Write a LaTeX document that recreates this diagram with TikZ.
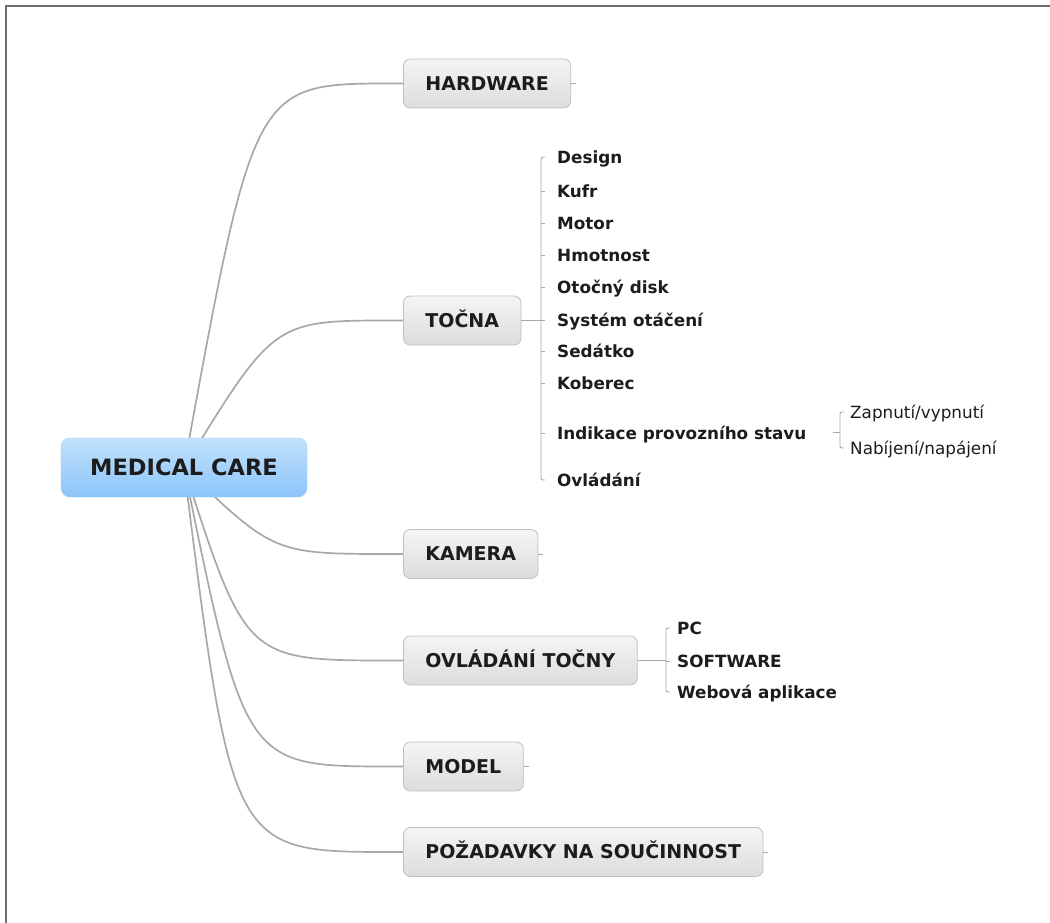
\documentclass[tikz,border=0pt]{standalone}
\usepackage{fontspec}
\setmainfont{DejaVu Sans}
\usetikzlibrary{positioning, calc, backgrounds}
\definecolor{rootTop}{HTML}{C2E1FC}
\definecolor{rootBot}{HTML}{8CC5F9}
\definecolor{rootLine}{HTML}{9CCBF4}
\definecolor{boxTop}{HTML}{F5F5F5}
\definecolor{boxBot}{HTML}{DCDCDC}
\definecolor{boxLine}{HTML}{C0C0C0}
\definecolor{branchGray}{HTML}{A8A8A8}
\definecolor{frameGray}{HTML}{6E6E6E}
\definecolor{inkDark}{HTML}{1C1C1C}

\begin{document}
\begin{tikzpicture}[
    x=1pt, y=-1pt,
    every node/.style={text=inkDark},
    root/.style={rounded corners=9pt, top color=rootTop, bottom color=rootBot, draw=rootLine,
        minimum width=246pt, minimum height=59pt, inner sep=0pt,
        font=\fontsize{22.5}{26}\selectfont\bfseries, text height=16.4pt, text depth=0pt},
    topic/.style={anchor=west, rounded corners=7pt, top color=boxTop, bottom color=boxBot,
        draw=boxLine, line width=0.8pt, minimum height=49pt, inner xsep=22pt, inner ysep=0pt,
        font=\fontsize{19}{22}\selectfont\bfseries, text height=13.9pt, text depth=0pt},
    leaf/.style={anchor=west, inner sep=0pt,
        font=\fontsize{16.8}{19}\selectfont\bfseries, text height=12.2pt, text depth=0pt},
    subleaf/.style={leaf, font=\fontsize{16.8}{19}\selectfont},
    branch/.style={draw=branchGray, line width=1.7pt},
    twig/.style={draw=branchGray, line width=0.9pt, rounded corners=2pt}
]
   \useasboundingbox (0,0) rectangle (1050,923);
   \draw[frameGray, line width=2.5pt] (6,923) -- (6,6) -- (1050,6);

   % Central topic
   \node[root] (mc) at (184,467.5) {MEDICAL CARE};

   % Main topics
   \node[topic] (hw)  at (403,83.5)  {HARDWARE};
   \node[topic] (toc) at (403,320.5) {TOČNA};
   \node[topic] (kam) at (403,554)   {KAMERA};
   \node[topic] (ovl) at (403,660.5) {OVLÁDÁNÍ TOČNY};
   \node[topic] (mod) at (403,766.5) {MODEL};
   \node[topic] (poz) at (403,852)   {POŽADAVKY NA SOUČINNOST};

   % Subtopics of TOČNA
   \node[leaf] (design) at (557,157)   {Design};
   \node[leaf] (kufr)   at (557,191)   {Kufr};
   \node[leaf] (motor)  at (557,223)   {Motor};
   \node[leaf] (hmot)   at (557,255)   {Hmotnost};
   \node[leaf] (disk)   at (557,287)   {Otočný disk};
   \node[leaf] (system) at (557,320.5) {Systém otáčení};
   \node[leaf] (sed)    at (557,351)   {Sedátko};
   \node[leaf] (kob)    at (557,383)   {Koberec};
   \node[leaf] (ind)    at (557,433)   {Indikace provozního stavu};
   \node[leaf] (ovlad)  at (557,480)   {Ovládání};
   \node[subleaf] (zap) at (850,412) {Zapnutí/vypnutí};
   \node[subleaf] (nab) at (850,448) {Nabíjení/napájení};

   % Subtopics of OVLÁDÁNÍ TOČNY
   \node[leaf] (pc)  at (677,628) {PC};
   \node[leaf] (sw)  at (677,661) {SOFTWARE};
   \node[leaf] (web) at (677,692) {Webová aplikace};

   % Bracket joints
   \coordinate (tb) at (541,320.5);
   \coordinate (ib) at (840,432);
   \coordinate (ob) at (666,660.5);

   % Curved branches from the centre
   \begin{scope}[on background layer]
   \draw[branch] (mc.center) .. controls ($(mc.center |- hw.west)+(70,0)$) .. ([xshift=-10]hw.west) -- (hw.west);
   \draw[branch] (mc.center) .. controls ($(mc.center |- toc.west)+(90,0)$) .. ([xshift=-10]toc.west) -- (toc.west);
   \draw[branch] (mc.center) .. controls ($(mc.center |- kam.west)+(90,0)$) .. ([xshift=-10]kam.west) -- (kam.west);
   \draw[branch] (mc.center) .. controls ($(mc.center |- ovl.west)+(62,0)$) .. ([xshift=-10]ovl.west) -- (ovl.west);
   \draw[branch] (mc.center) .. controls ($(mc.center |- mod.west)+(61,0)$) .. ([xshift=-10]mod.west) -- (mod.west);
   \draw[branch] (mc.center) .. controls ($(mc.center |- poz.west)+(48,0)$) .. ([xshift=-10]poz.west) -- (poz.west);
   \end{scope}

   % Stubs on closed topics
   \foreach \n in {hw, kam, mod, poz}
      \draw[twig] (\n.east) -- ++(5,0);

   % Brackets
   \draw[twig] (toc.east) -- (tb);
   \draw[twig] ([xshift=4]tb |- design.west) -| (tb |- ovlad.west) -- ++(4,0);
   \foreach \n in {kufr, motor, hmot, disk, system, sed, kob, ind}
      \draw[twig] (tb |- \n.west) -- ++(4,0);

   \draw[twig] ([xshift=-7]ib) -- (ib);
   \draw[twig] ([xshift=4]ib |- zap.west) -| (ib |- nab.west) -- ++(4,0);

   \draw[twig] (ovl.east) -- (ob);
   \draw[twig] ([xshift=4]ob |- pc.west) -| (ob |- web.west) -- ++(4,0);
   \draw[twig] (ob |- sw.west) -- ++(4,0);
\end{tikzpicture}
\end{document}
